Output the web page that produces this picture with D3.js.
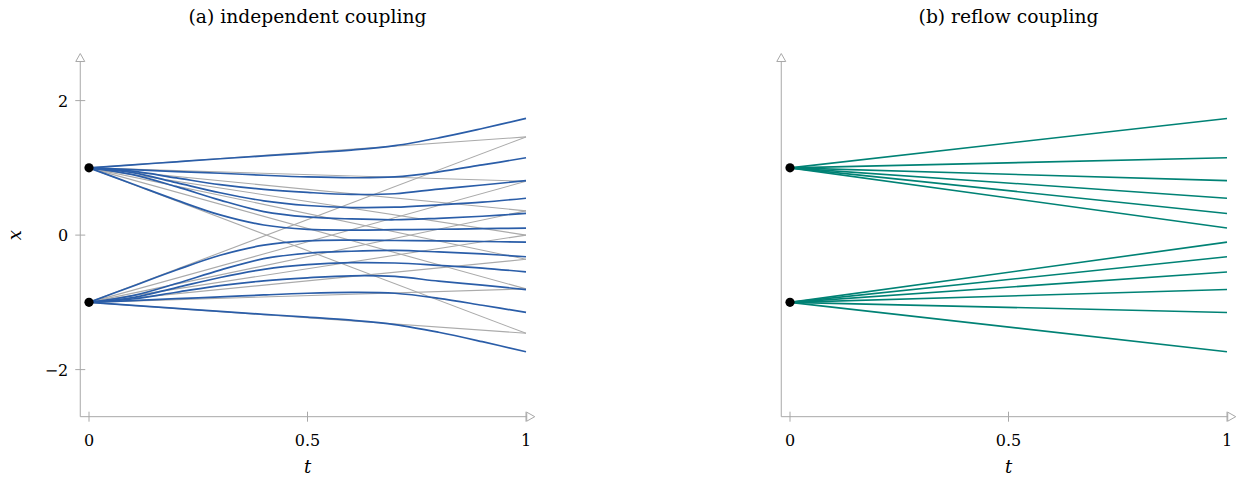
<!DOCTYPE html>
<html>
<head>
<meta charset="utf-8">
<script src="https://cdn.jsdelivr.net/npm/d3@7"></script>
<style>
  html, body { margin: 0; padding: 0; background: #fff; }
  svg { display: block; }
  text { font-family: "DejaVu Serif", "Liberation Serif", serif; fill: #000; }
</style>
</head>
<body>
<svg id="chart" width="1239" height="477"></svg>
<script>
// ---------------- data ----------------
const tGrid = [0, 0.1, 0.2, 0.3, 0.4, 0.5, 0.6, 0.7, 0.8, 0.9, 1.0];
const sources = [1, -1];
const targets = [1.46, 0.8, 0.36, 0, -0.36, -0.8, -1.46];

// flow trajectories (independent coupling), read at tGrid
const flowA = [1.00, 1.045, 1.09, 1.135, 1.178, 1.22, 1.265, 1.33, 1.445, 1.585, 1.735];
const flowB = [1.00, 0.975, 0.945, 0.92, 0.89, 0.865, 0.853, 0.865, 0.94, 1.043, 1.15];
const flowC = [1.00, 0.95, 0.85, 0.75, 0.68, 0.635, 0.605, 0.615, 0.685, 0.745, 0.81];
const flowD = [1.00, 0.93, 0.78, 0.63, 0.51, 0.44, 0.41, 0.415, 0.45, 0.49, 0.548];
const flowE = [1.00, 0.90, 0.72, 0.52, 0.35, 0.27, 0.24, 0.228, 0.25, 0.28, 0.322];
const flowF = [1.00, 0.76, 0.52, 0.30, 0.15, 0.085, 0.075, 0.08, 0.087, 0.095, 0.105];
const flowG = [-1.00, -0.76, -0.52, -0.30, -0.15, -0.085, -0.075, -0.08, -0.087, -0.095, -0.105];
const flowH = [-1.00, -0.90, -0.72, -0.52, -0.35, -0.27, -0.24, -0.228, -0.25, -0.28, -0.322];
const flowI = [-1.00, -0.93, -0.78, -0.63, -0.51, -0.44, -0.41, -0.415, -0.45, -0.49, -0.548];
const flowJ = [-1.00, -0.95, -0.85, -0.75, -0.68, -0.635, -0.605, -0.615, -0.685, -0.745, -0.81];
const flowK = [-1.00, -0.975, -0.945, -0.92, -0.89, -0.865, -0.853, -0.865, -0.94, -1.043, -1.15];
const flowL = [-1.00, -1.045, -1.09, -1.135, -1.178, -1.22, -1.265, -1.33, -1.445, -1.585, -1.735];
const flows = [flowA, flowB, flowC, flowD, flowE, flowF, flowG, flowH, flowI, flowJ, flowK, flowL];

const xTicks = [0, 0.5, 1];
const xTickLabels = ["0", "0.5", "1"];
const yTicks = [-2, 0, 2];
const yTickLabels = ["\u22122", "0", "2"];
const titles = ["(a) independent coupling", "(b) reflow coupling"];

// ---------------- layout ----------------
const svg = d3.select("#chart");
const axisColor = "#a8a8a8";
const blue = "#2a5da8";
const teal = "#008275";
const grey = "#ababab";

const panels = [
  { x0: 89, x1: 526, ylabels: true },
  { x0: 790, x1: 1227, ylabels: false }
];
const y = d3.scaleLinear().domain([-2, 2]).range([369.6, 100.6]);
const tMin = -0.02, tMax = 1.02, vMin = -2.7, vMax = 2.7;

panels.forEach((p, pi) => {
  const x = d3.scaleLinear().domain([0, 1]).range([p.x0, p.x1]);
  const g = svg.append("g");

  // axes lines
  const ax = x(tMin), ay = y(vMin);
  g.append("line").attr("x1", ax).attr("y1", ay).attr("x2", x(tMax) - 2).attr("y2", ay)
    .attr("stroke", axisColor).attr("stroke-width", 1);
  g.append("line").attr("x1", ax).attr("y1", ay).attr("x2", ax).attr("y2", y(vMax) + 2)
    .attr("stroke", axisColor).attr("stroke-width", 1);
  // arrow heads
  const xt = x(tMax), yt = y(vMax);
  g.append("path").attr("d", `M${xt},${ay} L${xt - 8},${ay - 4.5} L${xt - 8},${ay + 4.5} Z`)
    .attr("fill", "#fff").attr("stroke", axisColor).attr("stroke-width", 1);
  g.append("path").attr("d", `M${ax},${yt} L${ax - 4.5},${yt + 8} L${ax + 4.5},${yt + 8} Z`)
    .attr("fill", "#fff").attr("stroke", axisColor).attr("stroke-width", 1);

  // x ticks
  xTicks.forEach((tv, i) => {
    g.append("line").attr("x1", x(tv)).attr("x2", x(tv)).attr("y1", ay - 5).attr("y2", ay + 5)
      .attr("stroke", axisColor).attr("stroke-width", 1);
    g.append("text").attr("x", x(tv)).attr("y", ay + 29).attr("text-anchor", "middle")
      .attr("font-size", 16).text(xTickLabels[i]);
  });
  g.append("text").attr("x", x(0.5)).attr("y", ay + 56).attr("text-anchor", "middle")
    .attr("font-size", 18).attr("font-style", "italic").text("t");

  if (p.ylabels) {
    yTicks.forEach((v, i) => {
      g.append("line").attr("x1", ax - 5).attr("x2", ax + 5).attr("y1", y(v)).attr("y2", y(v))
        .attr("stroke", axisColor).attr("stroke-width", 1);
      g.append("text").attr("x", ax - 12).attr("y", y(v) + 6).attr("text-anchor", "end")
        .attr("font-size", 16).text(yTickLabels[i]);
    });
    g.append("text").attr("transform", `translate(21,${y(0)}) rotate(-90)`)
      .attr("text-anchor", "middle").attr("font-size", 18).attr("font-style", "italic").text("x");
  }

  // title
  g.append("text").attr("x", x(0.5)).attr("y", 23).attr("text-anchor", "middle")
    .attr("font-size", 18.7).text(titles[pi]);

  const line = d3.line().x(d => x(d[0])).y(d => y(d[1]));
  const smooth = d3.line().x(d => x(d[0])).y(d => y(d[1])).curve(d3.curveCatmullRom.alpha(0.5));

  if (pi === 0) {
    // independent coupling: straight lines between every source and target
    sources.forEach(s => targets.forEach(tg => {
      g.append("path").attr("d", line([[0, s], [1, tg]]))
        .attr("fill", "none").attr("stroke", grey).attr("stroke-width", 1.1);
    }));
    flows.forEach(f => {
      g.append("path").attr("d", smooth(tGrid.map((tv, i) => [tv, f[i]])))
        .attr("fill", "none").attr("stroke", blue).attr("stroke-width", 1.7);
    });
  } else {
    flows.forEach(f => {
      g.append("path").attr("d", line([[0, f[0]], [1, f[f.length - 1]]]))
        .attr("fill", "none").attr("stroke", teal).attr("stroke-width", 1.6);
    });
  }

  sources.forEach(s => {
    g.append("circle").attr("cx", x(0)).attr("cy", y(s)).attr("r", 4.6).attr("fill", "#000");
  });
});
</script>
</body>
</html>
